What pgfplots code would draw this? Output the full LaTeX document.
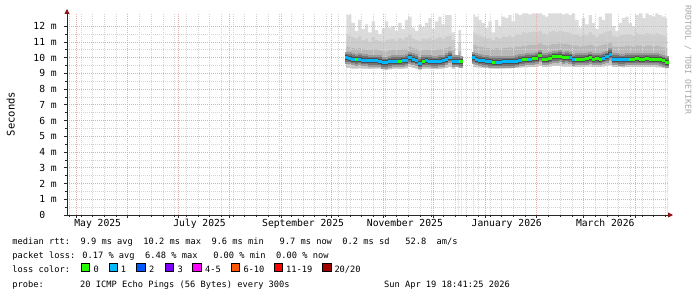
\documentclass[border=0pt]{standalone}
\usepackage{pgfplots}
\pgfplotsset{compat=1.18}
\usepackage{pgfplotstable}
\usepackage{fontspec}
\setmainfont{DejaVu Sans Mono}
\usetikzlibrary{arrows.meta}

\definecolor{lc0}{HTML}{26FF00}
\definecolor{lc1}{HTML}{00B8FF}
\definecolor{lc2}{HTML}{0059FF}
\definecolor{lc3}{HTML}{7E00FF}
\definecolor{lc4}{HTML}{FF00FF}
\definecolor{lc6}{HTML}{FF5500}
\definecolor{lc11}{HTML}{FF0000}
\definecolor{lc20}{HTML}{A00000}
\definecolor{gridred}{RGB}{236,172,172}
\definecolor{gridgray}{RGB}{212,212,212}
\definecolor{arrowred}{RGB}{140,20,20}
\definecolor{axiscol}{RGB}{40,40,40}
\definecolor{smk1}{HTML}{DCDCDC}
\definecolor{smk2}{HTML}{CDCDCD}
\definecolor{smk3}{HTML}{B8B8B8}
\definecolor{smk4}{HTML}{C4C4C4}
\definecolor{smkA}{HTML}{9A9A9A}
\definecolor{smkB}{HTML}{747474}
\definecolor{smkC}{HTML}{4E4E4E}

\newcommand\legfont{\fontsize{8.7bp}{10bp}\selectfont}
\newcommand\axfont{\fontsize{9.7bp}{11bp}\selectfont}

% days since 1 May 2025; values in ms
\pgfplotstableread{
day lo l1 med u1 u2 hi loss
162 9.35 9.60 10.00 10.70 11.50 12.75 1
164 9.35 9.60 9.95 10.65 11.40 12.70 1
166 9.30 9.55 9.88 10.60 11.30 12.20 1
168 9.30 9.55 9.86 10.55 11.20 11.70 0
170 9.32 9.55 9.88 10.60 11.35 12.40 1
172 9.30 9.55 9.84 10.55 11.10 11.80 1
174 9.30 9.52 9.82 10.50 11.20 12.10 1
176 9.28 9.52 9.80 10.50 11.00 11.60 1
178 9.28 9.50 9.80 10.55 11.30 12.30 1
180 9.30 9.52 9.80 10.50 11.10 11.75 1
182 9.30 9.52 9.78 10.45 11.05 11.50 1
184 9.25 9.48 9.68 10.40 11.00 11.85 1
186 9.22 9.45 9.66 10.40 11.10 12.30 1
188 9.25 9.48 9.72 10.45 11.15 11.90 1
190 9.28 9.50 9.78 10.50 11.20 12.00 1
192 9.30 9.52 9.78 10.50 11.05 11.70 1
194 9.28 9.50 9.76 10.50 11.25 12.20 0
196 9.30 9.52 9.80 10.55 11.15 11.80 1
198 9.32 9.55 9.82 10.55 11.30 12.40 1
200 9.40 9.65 10.00 10.70 11.45 12.60 1
202 9.35 9.60 9.90 10.60 11.20 11.90 1
204 9.30 9.55 9.84 10.55 11.10 11.70 1
206 9.22 9.45 9.64 10.40 11.05 12.10 1
208 9.28 9.50 9.78 10.50 11.20 11.95 0
210 9.30 9.52 9.80 10.50 11.15 12.20 1
212 9.28 9.50 9.76 10.50 11.25 12.50 1
214 9.28 9.50 9.74 10.45 11.10 11.80 1
216 9.26 9.50 9.74 10.50 11.20 12.30 1
218 9.28 9.50 9.76 10.55 11.30 12.60 1
220 9.30 9.55 9.80 10.55 11.20 12.10 1
222 9.35 9.60 9.90 10.60 11.35 12.70 1
224 9.40 9.65 10.02 10.70 11.40 12.70 1
226 9.30 9.55 9.78 10.50 11.10 11.60 1
227 9.30 9.55 9.78 10.50 11.10 11.60 1
}\segA

\pgfplotstableread{
day lo l1 med u1 u2 hi loss
229 9.35 9.55 9.75 10.40 11.00 11.75 1
230.7 9.35 9.55 9.74 10.40 11.00 11.75 0
}\segB

\pgfplotstableread{
day lo l1 med u1 u2 hi loss
238 9.40 9.65 10.00 10.80 11.60 12.75 1
240 9.38 9.62 9.90 10.75 11.50 12.60 1
242 9.36 9.60 9.84 10.70 11.40 12.40 1
244 9.35 9.58 9.80 10.65 11.30 12.20 1
246 9.33 9.55 9.75 10.60 11.20 11.90 1
248 9.32 9.55 9.72 10.60 11.25 12.30 1
250 9.30 9.52 9.70 10.55 11.10 11.60 0
252 9.30 9.52 9.70 10.60 11.30 12.40 1
254 9.30 9.52 9.70 10.55 11.20 12.00 1
256 9.30 9.52 9.72 10.60 11.35 12.60 1
258 9.32 9.55 9.73 10.60 11.30 12.50 1
260 9.32 9.55 9.73 10.65 11.40 12.70 1
262 9.33 9.55 9.74 10.60 11.30 12.30 1
264 9.35 9.58 9.78 10.70 11.50 12.80 1
266 9.36 9.60 9.82 10.70 11.45 12.70 1
268 9.38 9.62 9.86 10.75 11.60 12.80 0
270 9.38 9.62 9.88 10.75 11.55 12.80 0
272 9.40 9.65 9.90 10.80 11.60 12.75 1
274 9.40 9.65 9.92 10.80 11.65 12.80 0
276 9.40 9.65 9.95 10.80 11.60 12.80 0
278 9.45 9.70 10.12 10.90 11.70 12.80 0
280 9.40 9.65 9.90 10.80 11.55 12.70 0
282 9.40 9.65 9.88 10.75 11.50 12.60 0
284 9.42 9.68 9.95 10.80 11.65 12.80 0
286 9.45 9.70 10.06 10.85 11.70 12.80 0
288 9.45 9.70 10.05 10.85 11.60 12.80 0
290 9.45 9.70 10.08 10.90 11.70 12.80 0
292 9.42 9.68 10.00 10.85 11.65 12.75 0
294 9.42 9.68 10.02 10.85 11.60 12.80 0
296 9.42 9.68 10.00 10.80 11.55 12.70 1
298 9.40 9.65 9.86 10.75 11.50 12.80 1
300 9.40 9.65 9.90 10.75 11.45 12.40 0
302 9.40 9.65 9.90 10.70 11.35 11.90 0
304 9.40 9.65 9.88 10.75 11.50 12.50 0
306 9.42 9.68 9.92 10.75 11.40 12.10 0
308 9.42 9.68 10.00 10.80 11.60 12.70 0
310 9.40 9.65 9.90 10.75 11.45 12.20 0
312 9.40 9.65 9.92 10.70 11.30 11.80 0
314 9.40 9.65 9.90 10.75 11.50 12.60 0
316 9.42 9.68 9.95 10.80 11.55 12.40 1
318 9.45 9.72 10.05 10.85 11.65 12.80 1
320 9.50 9.78 10.22 10.95 11.70 12.80 1
322 9.40 9.65 9.88 10.70 11.40 12.00 1
324 9.40 9.65 9.88 10.70 11.30 11.70 1
326 9.40 9.65 9.86 10.70 11.40 12.20 1
328 9.38 9.62 9.86 10.70 11.45 12.50 1
330 9.40 9.65 9.88 10.75 11.50 12.60 1
332 9.40 9.65 9.90 10.75 11.45 12.20 0
334 9.40 9.65 9.90 10.70 11.40 12.00 0
336 9.40 9.65 9.92 10.75 11.55 12.70 0
338 9.40 9.65 9.90 10.75 11.50 12.80 0
340 9.40 9.65 9.90 10.70 11.45 12.50 0
342 9.40 9.65 9.92 10.75 11.55 12.80 0
344 9.40 9.65 9.90 10.75 11.50 12.70 0
346 9.40 9.65 9.90 10.70 11.45 12.60 0
348 9.38 9.62 9.88 10.75 11.55 12.80 0
350 9.38 9.62 9.86 10.70 11.45 12.70 0
352 9.35 9.60 9.80 10.65 11.40 12.60 0
354 9.30 9.55 9.70 10.60 11.30 12.50 0
}\segC

\newcommand{\smoke}[1]{%
  \addplot[const plot mark mid, fill=smk1, draw=none] table[x=day,y=hi]{#1} \closedcycle;
  \addplot[const plot mark mid, fill=smk2, draw=none] table[x=day,y=u2]{#1} \closedcycle;
  \addplot[const plot mark mid, fill=smk3, draw=none] table[x=day,y=u1]{#1} \closedcycle;
  \addplot[const plot mark mid, fill=smk4, draw=none] table[x=day,y=l1]{#1} \closedcycle;
  \addplot[const plot mark mid, fill=white, draw=none] table[x=day,y=lo]{#1} \closedcycle;
  \addplot[only marks, mark=-, mark size=1.8bp, mark options={draw=smkA, line width=12bp}] table[x=day,y=med]{#1};
  \addplot[only marks, mark=-, mark size=1.8bp, mark options={draw=smkB, line width=8bp}] table[x=day,y=med]{#1};
  \addplot[only marks, mark=-, mark size=1.8bp, mark options={draw=smkC, line width=5bp}] table[x=day,y=med]{#1};
  \addplot[const plot mark mid, draw=lc1, line width=2.5bp, no marks] table[x=day,y=med]{#1};
  \addplot[scatter, only marks, mark=-, mark size=1.67bp,
    scatter src=explicit symbolic,
    scatter/classes={0={mark=-,draw=lc0,line width=3bp},1={mark=-,draw=lc1,line width=3bp}}]
    table[x=day,y=med,meta=loss]{#1};
}

\begin{document}
\begin{tikzpicture}
\path[use as bounding box] (0,0) rectangle (697bp,297bp);
\begin{axis}[
  at={(67bp,82bp)}, anchor=south west,
  width=601bp, height=202bp, scale only axis,
  xmin=-5.4, xmax=354.6, ymin=0, ymax=12.83,
  axis x line=bottom, axis y line=left,
  axis line style={draw=axiscol, line width=0.8bp},
  x axis line style={-{Triangle[length=5bp,width=5bp,color=arrowred]}, shorten >=-5bp},
  y axis line style={-{Triangle[length=5bp,width=5bp,color=arrowred]}, shorten >=-4bp},
  axis on top,
  xtick={0,31,61,92,123,153,184,214,245,276,304,335},
  xticklabels={},
  minor xtick={-4,3,...,353},
  extra x ticks={13,74,136,197,258,317},
  extra x tick labels={May 2025,July 2025,September 2025,November 2025,January 2026,March 2026},
  extra x tick style={grid=none, major tick length=0pt},
  ytick={0,1,...,12},
  yticklabels={0\phantom{ m},1 m,2 m,3 m,4 m,5 m,6 m,7 m,8 m,9 m,10 m,11 m,12 m},
  minor y tick num=1,
  xmajorgrids, xminorgrids, ymajorgrids, yminorgrids,
  major grid style={draw=gridred, dash pattern=on 1bp off 1bp, line width=0.6bp},
  minor grid style={draw=gridgray, dash pattern=on 1bp off 1bp, line width=0.6bp},
  tick align=outside, major tick length=3bp, minor tick length=2bp,
  tick style={draw=axiscol, line width=0.6bp},
  tick label style={font=\axfont, text=black},
  yticklabel style={inner sep=0pt, xshift=-7bp},
  xticklabel style={inner sep=0pt, yshift=-4bp},
  clip=true,
]
\smoke{\segA}
\smoke{\segB}
\smoke{\segC}
\end{axis}

\node[rotate=90, font=\fontsize{10.5bp}{12bp}\selectfont] at (10.8bp,183bp) {Seconds};
\node[rotate=-90, text=black!35, font=\fontsize{8.2bp}{9bp}\selectfont] at (688bp,237bp) {RRDTOOL / TOBI OETIKER};

\node[anchor=base west, inner sep=0pt, font=\legfont] at (12.3bp,52.7bp)
  {median rtt:~~9.9 ms avg~~10.2 ms max~~9.6 ms min~~~9.7 ms now~~0.2 ms sd~~~52.8~~am/s};
\node[anchor=base west, inner sep=0pt, font=\legfont] at (12.3bp,38.2bp)
  {packet loss: 0.17 \% avg~~6.48 \% max~~~0.00 \% min~~0.00 \% now};
\node[anchor=base west, inner sep=0pt, font=\legfont] at (12.3bp,24.5bp) {loss color:};
\foreach \bx/\tx/\col/\lab in {81/93.3/lc0/0, 109/120.7/lc1/1, 136.7/149/lc2/2, 165/177.3/lc3/3,
    192.7/205/lc4/4-5, 231/243.3/lc6/6-10, 274/286/lc11/11-19, 322.7/334.3/lc20/{20/20}}{
  \draw[fill=\col, draw=black, line width=0.8bp] (\bx bp,25.3bp) rectangle ++(8.3bp,8.6bp);
  \node[anchor=base west, inner sep=0pt, font=\legfont] at (\tx bp,24.5bp) {\lab};
}
\node[anchor=base west, inner sep=0pt, font=\legfont] at (12.3bp,9.5bp) {probe:};
\node[anchor=base west, inner sep=0pt, font=\legfont] at (80bp,9.5bp) {20 ICMP Echo Pings (56 Bytes) every 300s};
\node[anchor=base east, inner sep=0pt, font=\legfont] at (510bp,9.5bp) {Sun Apr 19 18:41:25 2026};
\end{tikzpicture}
\end{document}
